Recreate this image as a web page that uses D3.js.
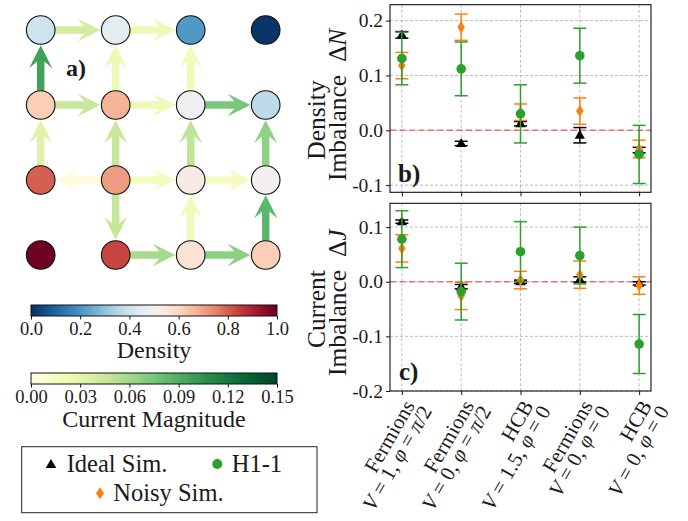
<!DOCTYPE html>
<html><head><meta charset="utf-8">
<script src="https://cdn.jsdelivr.net/npm/d3@7"></script>
<style>
body{margin:0;background:#fff}
svg{display:block}
</style>
</head><body>
<svg id="chart" width="688" height="521"></svg>
<script>
// ---------- data ----------
const densityRows = [
  [0.40, 0.45, 0.21, 0.01],
  [0.62, 0.67, 0.48, 0.37],
  [0.80, 0.71, 0.53, 0.50],
  [0.99, 0.84, 0.57, 0.62]
];
// [fromRow, fromCol, toRow, toCol, current magnitude]
const currentEdges = [
  [0,0,0,1,0.040],[0,1,0,2,0.024],
  [1,0,1,1,0.045],[1,1,1,2,0.022],[1,2,1,3,0.074],
  [2,1,2,0,0.005],[2,1,2,2,0.017],[2,2,2,3,0.017],
  [3,1,3,2,0.058],[3,2,3,3,0.067],
  [1,0,0,0,0.097],[2,0,1,0,0.033],
  [1,1,0,1,0.024],[2,1,1,1,0.045],[2,1,3,1,0.046],
  [1,2,0,2,0.021],[2,2,1,2,0.049],[3,2,2,2,0.022],
  [2,3,1,3,0.066],[3,3,2,3,0.085]
];
const densityTicks = [0.0, 0.2, 0.4, 0.6, 0.8, 1.0];
const currentTicks = [0.00, 0.03, 0.06, 0.09, 0.12, 0.15];

const catSystem = ["Fermions", "Fermions", "HCB", "Fermions", "HCB"];
const catV = ["1", "0", "1.5", "0", "0"];
const catPhi = ["π/2", "π/2", "0", "0", "0"];

// Density imbalance ΔN
const dnIdeal = [0.174, -0.024, 0.012, -0.009, -0.036];
const dnIdealErr = [0.006, 0.004, 0.004, 0.014, 0.005];
const dnNoisy = [0.118, 0.188, 0.033, 0.035, -0.034];
const dnNoisyErr = [0.024, 0.024, 0.015, 0.024, 0.016];
const dnH1 = [0.131, 0.112, 0.030, 0.136, -0.044];
const dnH1Err = [0.048, 0.049, 0.053, 0.050, 0.053];
const dnTicks = [0.2, 0.1, 0.0, -0.1];
const dnTickLabels = ["0.2", "0.1", "0.0", "-0.1"];

// Current imbalance ΔJ
const djIdeal = [0.110, -0.009, 0.000, 0.004, -0.003];
const djIdealErr = [0.003, 0.004, 0.003, 0.005, 0.003];
const djNoisy = [0.061, -0.026, 0.003, 0.013, -0.007];
const djNoisyErr = [0.025, 0.025, 0.016, 0.025, 0.016];
const djH1 = [0.078, -0.018, 0.055, 0.048, -0.114];
const djH1Err = [0.052, 0.052, 0.055, 0.052, 0.054];
const djTicks = [0.1, 0.0, -0.1, -0.2];
const djTickLabels = ["0.1", "0.0", "-0.1", "-0.2"];

// ---------- font warm-up ----------
const FAM = '"Liberation Serif"';
const ctx = document.createElement("canvas").getContext("2d");
["", "italic ", "bold "].forEach(s => { ctx.font = `${s}20px ${FAM}`; ctx.measureText("Imbalance ΔN 0.2 π φ"); });

// ---------- setup ----------
const svg = d3.select("#chart");
const densColor = t => d3.interpolateRdBu(1 - t);
const curScale = d3.scaleLinear().domain([0, 0.15]).range([0, 1]).clamp(true);
const curColor = v => d3.interpolateYlGn(curScale(v));
const GREEN = "#2ca02c", ORANGE = "#ff7f0e", INK = "#1a1a1a";
const txt = (sel) => sel.append("text").style("font-family", FAM).style("fill", INK);

// ---------- panel a: lattice ----------
const gx = d3.scaleLinear().domain([0, 3]).range([40.7, 265.7]);
const gy = d3.scaleLinear().domain([0, 3]).range([30, 255]);
const R = 14.3;
const gA = svg.append("g");

const shaftHW = 3.7, headHW = 11.5, headLen = 23, overhang = 0.3;
currentEdges.forEach(([r1, c1, r2, c2, j]) => {
  const x1 = gx(c1), y1 = gy(r1), x2 = gx(c2), y2 = gy(r2);
  const d = Math.hypot(x2 - x1, y2 - y1);
  const ang = Math.atan2(y2 - y1, x2 - x1) * 180 / Math.PI;
  const L = d - 2 * R - 1;
  const join = L - headLen * (1 - overhang);
  const p = d3.path();
  p.moveTo(0, -shaftHW);
  p.lineTo(join, -shaftHW);
  p.lineTo(L - headLen, -headHW);
  p.lineTo(L, 0);
  p.lineTo(L - headLen, headHW);
  p.lineTo(join, shaftHW);
  p.lineTo(0, shaftHW);
  p.closePath();
  const sx = x1 + (x2 - x1) / d * R, sy = y1 + (y2 - y1) / d * R;
  gA.append("path").attr("d", p.toString())
    .attr("transform", `translate(${sx},${sy}) rotate(${ang})`)
    .attr("fill", curColor(j));
});

densityRows.forEach((row, r) => row.forEach((v, c) => {
  gA.append("circle").attr("cx", gx(c)).attr("cy", gy(r)).attr("r", R)
    .attr("fill", densColor(v)).attr("stroke", "#111").attr("stroke-width", 1.1);
}));

txt(gA).attr("x", 66).attr("y", 76).attr("font-size", 24)
  .style("font-weight", "bold").text("a)");

// ---------- colorbars ----------
function colorbar(y0, interp, domain, ticks, fmt, label, labelY, id) {
  const cx = d3.scaleLinear().domain(domain).range([31, 277]);
  const grad = svg.append("defs").append("linearGradient").attr("id", id);
  d3.range(0, 1.0001, 0.02).forEach(t => grad.append("stop")
    .attr("offset", t).attr("stop-color", interp(t)));
  svg.append("rect").attr("x", 31).attr("y", y0).attr("width", 246).attr("height", 11)
    .attr("fill", `url(#${id})`).attr("stroke", "#111").attr("stroke-width", 1);
  const ax = svg.append("g").attr("transform", `translate(0,${y0 + 11})`)
    .call(d3.axisBottom(cx).tickValues(ticks).tickFormat(fmt).tickSize(3.5).tickSizeOuter(0).tickPadding(2));
  ax.select(".domain").remove();
  ax.selectAll("text").attr("font-size", 18.5).style("font-family", FAM).style("fill", INK);
  ax.selectAll("line").attr("stroke", "#111");
  txt(svg).attr("x", 154).attr("y", labelY).attr("text-anchor", "middle")
    .attr("font-size", 24).text(label);
}
colorbar(305, t => densColor(t), [0, 1], densityTicks, d3.format(".1f"), "Density", 357.5, "gDens");
colorbar(373, t => d3.interpolateYlGn(t), [0, 0.15], currentTicks, d3.format(".2f"), "Current Magnitude", 427, "gCur");

// ---------- legend ----------
const leg = svg.append("g");
leg.append("rect").attr("x", 21.7).attr("y", 446.7).attr("width", 295.3).attr("height", 66)
  .attr("fill", "#fff").attr("stroke", "#222").attr("stroke-width", 1);
const diamondPath = (w, h) => `M0,${-h/2}L${w/2},0L0,${h/2}L${-w/2},0Z`;
leg.append("path").attr("d", d3.symbol(d3.symbolTriangle, 48)()).attr("transform", "translate(51,465)").attr("fill", "#000");
txt(leg).attr("x", 66.7).attr("y", 472).attr("font-size", 24.5).text("Ideal Sim.");
leg.append("circle").attr("cx", 217.3).attr("cy", 464).attr("r", 5).attr("fill", GREEN);
txt(leg).attr("x", 231.7).attr("y", 472).attr("font-size", 24.5).text("H1-1");
leg.append("path").attr("d", diamondPath(8, 12)).attr("transform", "translate(100,493.3)").attr("fill", ORANGE);
txt(leg).attr("x", 113.3).attr("y", 501).attr("font-size", 24.5).text("Noisy Sim.");

// ---------- right panels ----------
const xL = 390, xR = 651;
const x = d3.scaleLinear().domain([-0.2, 4.2]).range([xL, xR]);
const cats = d3.range(5);

function panel(top, bottom, domain, ticks, tickLabels, ideal, idealErr, noisy, noisyErr, h1, h1Err, showX) {
  const y = d3.scaleLinear().domain(domain).range([bottom, top]);
  const g = svg.append("g");
  g.selectAll(".gh").data(ticks).join("line")
    .attr("x1", xL).attr("x2", xR).attr("y1", d => y(d)).attr("y2", d => y(d))
    .attr("stroke", "#b5b5b5").attr("stroke-width", 0.9).attr("stroke-dasharray", "3,2");
  g.selectAll(".gv").data(cats).join("line")
    .attr("x1", d => x(d)).attr("x2", d => x(d)).attr("y1", top).attr("y2", bottom)
    .attr("stroke", "#b5b5b5").attr("stroke-width", 0.9).attr("stroke-dasharray", "3,2");
  g.append("line").attr("x1", xL).attr("x2", xR).attr("y1", y(0)).attr("y2", y(0))
    .attr("stroke", "#e8605a").attr("stroke-opacity", 0.85).attr("stroke-width", 1.6).attr("stroke-dasharray", "6,3.5");

  function series(vals, errs, color, marker) {
    const s = g.append("g");
    cats.forEach(i => {
      const cx = x(i), lo = y(vals[i] - errs[i]), hi = y(vals[i] + errs[i]);
      s.append("line").attr("x1", cx).attr("x2", cx).attr("y1", lo).attr("y2", hi)
        .attr("stroke", color).attr("stroke-width", 1.5);
      [lo, hi].forEach(yy => s.append("line").attr("x1", cx - 6.5).attr("x2", cx + 6.5)
        .attr("y1", yy).attr("y2", yy).attr("stroke", color).attr("stroke-width", 1.5));
    });
    cats.forEach(i => {
      const cx = x(i), cy = y(vals[i]);
      if (marker === "tri") s.append("path").attr("d", d3.symbol(d3.symbolTriangle, 46)())
        .attr("transform", `translate(${cx},${cy + 0.5})`).attr("fill", color);
      else if (marker === "circ") s.append("circle").attr("cx", cx).attr("cy", cy).attr("r", 4.8).attr("fill", color);
      else s.append("path").attr("d", diamondPath(7.5, 12)).attr("transform", `translate(${cx},${cy})`).attr("fill", color);
    });
  }
  series(ideal, idealErr, "#000", "tri");
  series(noisy, noisyErr, ORANGE, "dia");
  series(h1, h1Err, GREEN, "circ");

  g.append("rect").attr("x", xL).attr("y", top).attr("width", xR - xL).attr("height", bottom - top)
    .attr("fill", "none").attr("stroke", "#111").attr("stroke-width", 1.1);
  const ay = g.append("g").attr("transform", `translate(${xL},0)`)
    .call(d3.axisLeft(y).tickValues(ticks).tickFormat((d, i) => tickLabels[i]).tickSize(4).tickSizeOuter(0).tickPadding(3));
  ay.select(".domain").remove();
  ay.selectAll("text").attr("font-size", 19.5).style("font-family", FAM).style("fill", INK);
  ay.selectAll("line").attr("stroke", "#111");
  const axx = g.append("g").attr("transform", `translate(0,${bottom})`)
    .call(d3.axisBottom(x).tickValues(cats).tickFormat("").tickSize(4).tickSizeOuter(0));
  axx.select(".domain").remove();
  axx.selectAll("line").attr("stroke", "#111");
  if (showX) {
    cats.forEach(i => {
      const t = txt(g).attr("transform", `translate(${x(i) + 0.5},${bottom + 7}) rotate(-60)`)
        .attr("text-anchor", "end").attr("font-size", 21);
      t.append("tspan").attr("x", 0).attr("y", 15).text(catSystem[i]);
      const l2 = t.append("tspan").attr("x", 4).attr("y", 32.5);
      l2.append("tspan").style("font-style", "italic").text("V");
      l2.append("tspan").text(" = " + catV[i] + ", ");
      l2.append("tspan").style("font-style", "italic").text("φ");
      l2.append("tspan").text(" = ");
      if (catPhi[i] === "π/2") {
        l2.append("tspan").style("font-style", "italic").text("π");
        l2.append("tspan").text("/2");
      } else l2.append("tspan").text(catPhi[i]);
    });
  }
  return y;
}

panel(4.7, 192.3, [-0.113, 0.229], dnTicks, dnTickLabels, dnIdeal, dnIdealErr, dnNoisy, dnNoisyErr, dnH1, dnH1Err, false);
panel(203.3, 391, [-0.2, 0.1436], djTicks, djTickLabels, djIdeal, djIdealErr, djNoisy, djNoisyErr, djH1, djH1Err, true);

function ylabel(line1, line1Center, sym, yStart) {
  txt(svg).attr("transform", `translate(325,${line1Center}) rotate(-90)`)
    .attr("font-size", 25.5).attr("text-anchor", "middle").text(line1);
  const t = txt(svg).attr("transform", `translate(346,${yStart}) rotate(-90)`)
    .attr("font-size", 25.5).attr("text-anchor", "start");
  t.append("tspan").text("Imbalance\u2002Δ");
  t.append("tspan").style("font-style", "italic").text(sym);
}
ylabel("Density", 120, "N", 181);
ylabel("Current", 309, "J", 376);

txt(svg).attr("x", 398).attr("y", 182).attr("font-size", 25).style("font-weight", "bold").text("b)");
txt(svg).attr("x", 399).attr("y", 380).attr("font-size", 25).style("font-weight", "bold").text("c)");
</script>
</body></html>
